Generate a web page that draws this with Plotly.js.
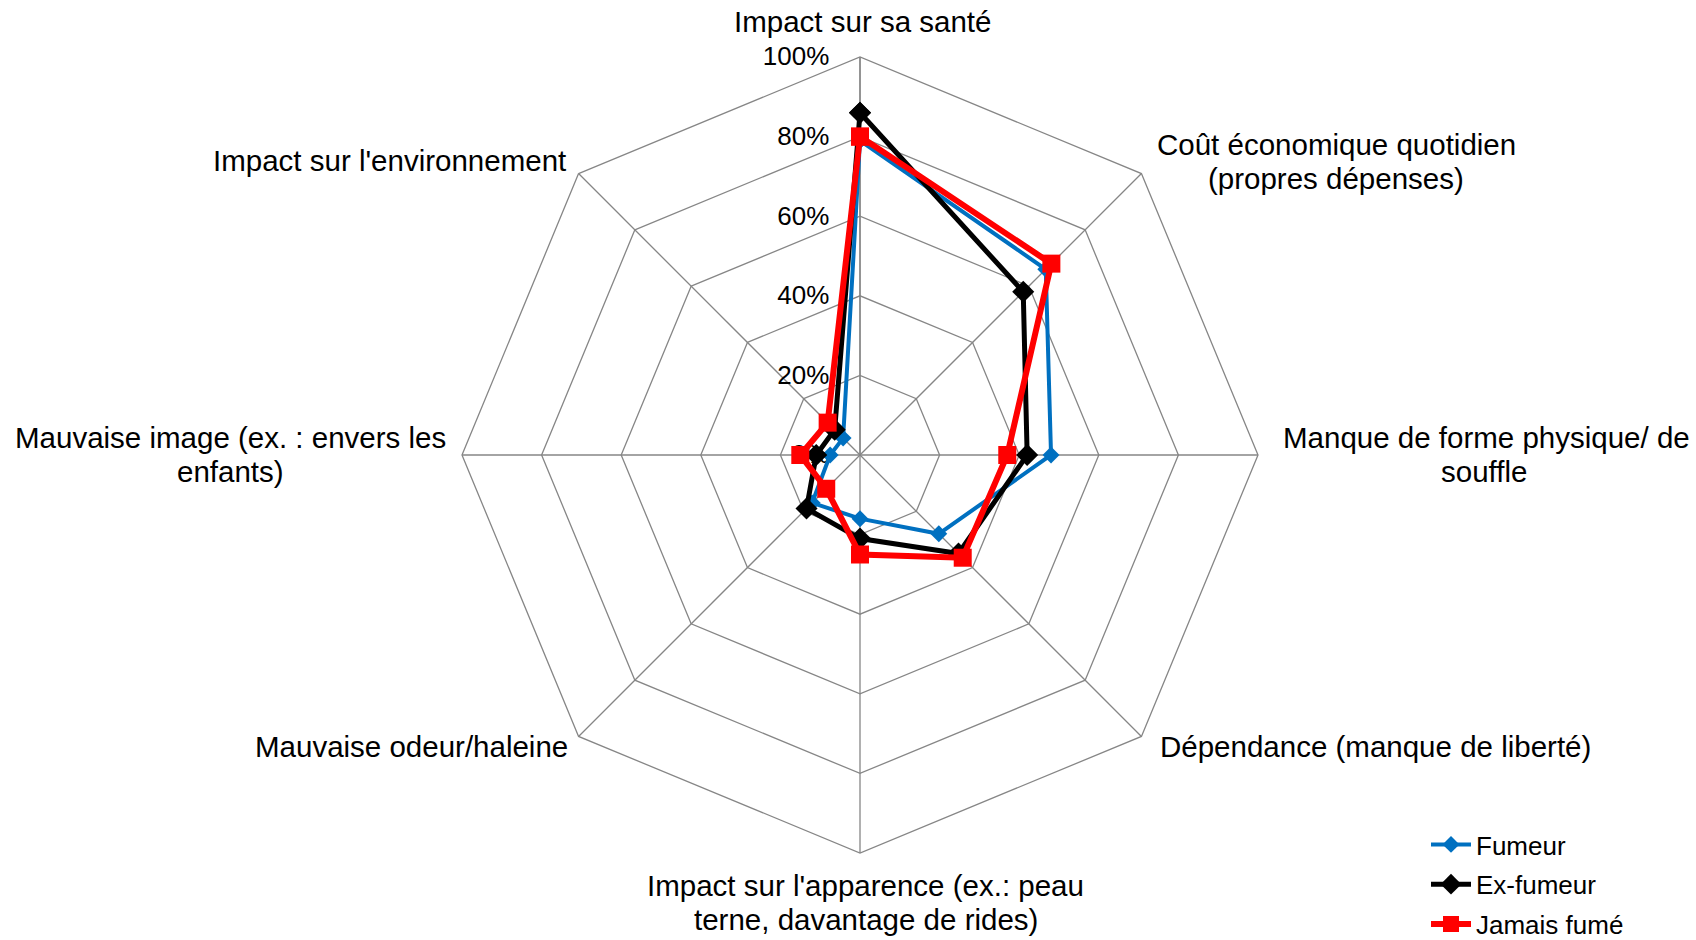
<!DOCTYPE html>
<html>
<head>
<meta charset="utf-8">
<script src="https://cdn.plot.ly/plotly-3.0.1.min.js"></script>
<style>html,body{margin:0;padding:0;background:#fff;}#chart{width:1696px;height:940px;}</style>
</head>
<body>
<div id="chart"></div>
<script>
const categories = [
  "Impact sur sa santé",
  "Coût économique quotidien (propres dépenses)",
  "Manque de forme physique/ de souffle",
  "Dépendance (manque de liberté)",
  "Impact sur l'apparence (ex.: peau terne, davantage de rides)",
  "Mauvaise odeur/haleine",
  "Mauvaise image (ex. : envers les enfants)",
  "Impact sur l'environnement"
];
const categoryLines = [
  ["Impact sur sa santé"],
  ["Coût économique quotidien", "(propres dépenses)"],
  ["Manque de forme physique/ de", "souffle"],
  ["Dépendance (manque de liberté)"],
  ["Impact sur l'apparence (ex.: peau", "terne, davantage de rides)"],
  ["Mauvaise odeur/haleine"],
  ["Mauvaise image (ex. : envers les", "enfants)"],
  ["Impact sur l'environnement"]
];
const fumeur     = [0.79, 0.66, 0.48, 0.28, 0.16, 0.17, 0.075, 0.06];
const exFumeur   = [0.86, 0.58, 0.42, 0.35, 0.21, 0.19, 0.11, 0.09];
const jamaisFume = [0.80, 0.68, 0.37, 0.365, 0.25, 0.12, 0.15, 0.115];
const seriesNames = ["Fumeur", "Ex-fumeur", "Jamais fumé"];
const radialTicks = [0, 0.2, 0.4, 0.6, 0.8, 1.0];

const W = 1696, H = 940;
const cx = 860, cy = 455, R = 398;
const FONT = "Arial, 'Liberation Sans', sans-serif";

function closed(arr){ return arr.concat([arr[0]]); }

const styles = [
  {color:"#0070C0", width:4, symbol:"diamond", size:13},
  {color:"#000000", width:5, symbol:"diamond", size:17},
  {color:"#FF0000", width:6, symbol:"square", size:18}
];
const seriesVals = [fumeur, exFumeur, jamaisFume];

const traces = seriesVals.map((vals, i) => ({
  type: "scatterpolar",
  mode: "lines+markers",
  name: seriesNames[i],
  legendgroup: "g" + i,
  r: closed(vals),
  theta: closed(categories),
  line: {color: styles[i].color, width: styles[i].width},
  marker: {color: styles[i].color, symbol: styles[i].symbol, size: styles[i].size, line:{width:0}},
  cliponaxis: false
}));

// label positions (line centers, px)
const labelPos = [
  [[862, 22]],
  [[1336, 144], [1336, 178]],
  [[1486, 438], [1484, 471]],
  [[1375, 746]],
  [[866, 885], [866, 919]],
  [[411, 746]],
  [[231, 438], [231, 471]],
  [[389, 160]]
];
const annotations = [];
categoryLines.forEach((lines, i) => {
  lines.forEach((t, j) => {
    const p = labelPos[i][j];
    annotations.push({
      text: t, xref: "paper", yref: "paper",
      x: p[0] / W, y: 1 - p[1] / H, xanchor: "center", yanchor: "middle",
      showarrow: false, font: {family: FONT, size: 29.5, color: "#000"}
    });
  });
});

const layout = {
  width: W, height: H,
  margin: {l:0, r:0, t:0, b:0, autoexpand: false},
  paper_bgcolor: "#fff",
  font: {family: FONT, color: "#000"},
  showlegend: true,
  legend: {
    x: 1426 / W, y: 1 - 821 / H, xanchor: "left", yanchor: "top",
    font: {family: FONT, size: 26, color: "#000"},
    traceorder: "grouped", tracegroupgap: 3,
    bgcolor: "rgba(0,0,0,0)", itemwidth: 40
  },
  annotations: annotations,
  polar: {
    domain: {x: [(cx - R) / W, (cx + R) / W], y: [1 - (cy + R) / H, 1 - (cy - R) / H]},
    gridshape: "linear",
    bgcolor: "rgba(0,0,0,0)",
    angularaxis: {
      type: "category",
      rotation: 90, direction: "clockwise",
      showticklabels: false, ticks: "",
      gridcolor: "#868686", gridwidth: 1.3,
      linecolor: "#868686", linewidth: 1.3, showline: true
    },
    radialaxis: {
      range: [0, 1], tickvals: radialTicks, tickformat: ".0%",
      angle: 90, side: "counterclockwise", tickangle: 90,
      showline: true, linecolor: "#868686", linewidth: 1.3,
      gridcolor: "#868686", gridwidth: 1.3,
      ticks: "outside", ticklen: 21, tickcolor: "rgba(0,0,0,0)",
      layer: "below traces",
      tickfont: {family: FONT, size: 26, color: "#000"}
    }
  }
};

Plotly.newPlot("chart", traces, layout, {displayModeBar: false, staticPlot: true});
</script>
</body>
</html>
